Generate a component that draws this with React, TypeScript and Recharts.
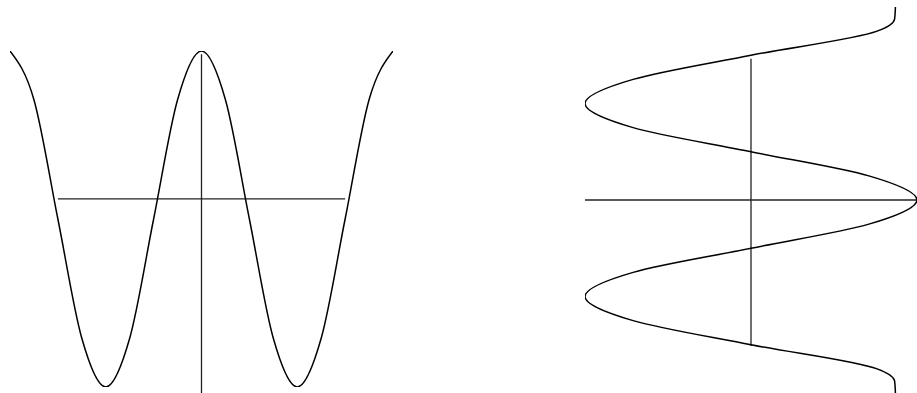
import { ComposedChart, Line, XAxis, YAxis, ReferenceLine } from "recharts";

// left plot: wave sampled every 1/8 period
const leftX = [-8, -7, -6, -5, -4, -3, -2, -1, 0, 1, 2, 3, 4, 5, 6, 7, 8];
const leftY = [1, 0.71, 0, -0.71, -1, -0.71, 0, 0.71, 1, 0.71, 0, -0.71, -1, -0.71, 0, 0.71, 1];

// right plot: same wave turned on its side, ends flatten out
const rightT = [-8, -7.5, -7, -6, -5, -4, -3, -2, -1, 0, 1, 2, 3, 4, 5, 6, 7, 7.5, 8];
const rightV = [0.87, 0.865, 0.76, 0, -0.71, -1, -0.71, 0, 0.71, 1, 0.71, 0, -0.71, -1, -0.71, 0, 0.76, 0.865, 0.87];

const leftData = leftX.map((x, i) => ({ x, y: leftY[i] }));
const rightData = rightT.map((t, i) => ({ t, v: rightV[i] }));

const axisStyle = { stroke: "#222", strokeWidth: 1.3 };

export default function App() {
  return (
    <div
      style={{
        position: "fixed",
        left: 0,
        top: 0,
        width: 917,
        height: 393,
        overflow: "hidden",
        background: "#fff",
      }}
    >
      <div style={{ position: "absolute", left: 0, top: 0 }}>
        <ComposedChart width={410} height={393} data={leftData} margin={{ top: 51, right: 17, bottom: 6, left: 10 }}>
          <XAxis type="number" dataKey="x" domain={[-8, 8]} allowDataOverflow hide />
          <YAxis type="number" domain={[-1, 1]} allowDataOverflow hide />
          <ReferenceLine
            segment={[{ x: -6, y: 0.12 }, { x: 6, y: 0.12 }]}
            ifOverflow="visible"
            {...axisStyle}
          />
          <ReferenceLine
            segment={[{ x: 0, y: 0.98 }, { x: 0, y: -1.1 }]}
            ifOverflow="visible"
            {...axisStyle}
          />
          <Line
            type="monotone"
            dataKey="y"
            stroke="#000"
            strokeWidth={1.5}
            dot={false}
            isAnimationActive={false}
          />
        </ComposedChart>
      </div>
      <div style={{ position: "absolute", left: 560, top: 0 }}>
        <ComposedChart
          layout="vertical"
          width={357}
          height={393}
          data={rightData}
          margin={{ top: 7, right: 0, bottom: 0, left: 25 }}
        >
          <XAxis type="number" domain={[-1, 1]} allowDataOverflow hide />
          <YAxis type="number" dataKey="t" domain={[-8, 8]} allowDataOverflow hide />
          <ReferenceLine
            segment={[{ x: -1, y: 0 }, { x: 1.1, y: 0 }]}
            ifOverflow="visible"
            {...axisStyle}
          />
          <ReferenceLine
            segment={[{ x: 0, y: -5.85 }, { x: 0, y: 6.05 }]}
            ifOverflow="visible"
            {...axisStyle}
          />
          <Line
            type="monotone"
            dataKey="v"
            stroke="#000"
            strokeWidth={1.5}
            dot={false}
            isAnimationActive={false}
          />
        </ComposedChart>
      </div>
    </div>
  );
}
